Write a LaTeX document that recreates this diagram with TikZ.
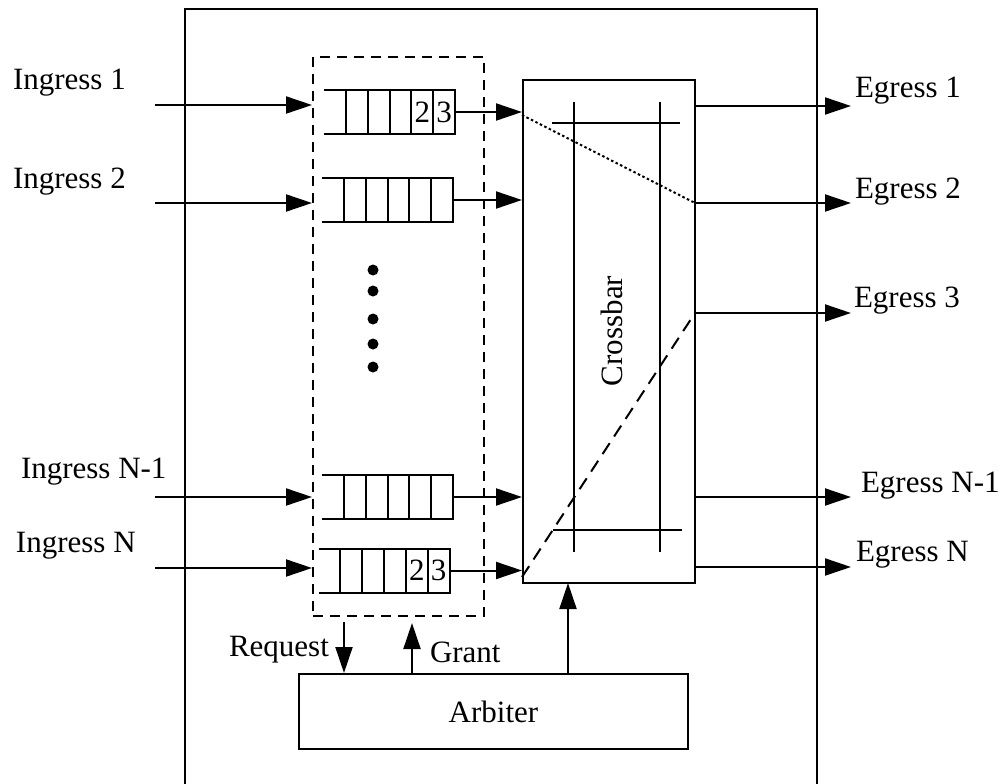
\documentclass[tikz,border=0pt]{standalone}
\usepackage{fontspec}
\setmainfont{Liberation Serif}
\usetikzlibrary{arrows.meta,calc}
\begin{document}
\begin{tikzpicture}[x=1pt,y=-1pt,
  line width=2pt,
  lbl/.style={font=\fontsize{31}{36}\selectfont, inner sep=0pt, anchor=base west},
  digit/.style={font=\fontsize{31}{36}\selectfont, inner sep=0pt},
  arr/.style={-{Triangle[length=26pt,width=17pt]}},
  box/.style={draw, rectangle, inner sep=0pt},
  qslot/.style={inner sep=0pt, minimum width=129pt, minimum height=42pt},
  dotc/.style={circle, fill=black, inner sep=0pt, minimum size=11pt},
  dashbox/.style={draw, rectangle, inner sep=0pt, dash pattern=on 10pt off 7pt},
  fine/.style={dash pattern=on 2.5pt off 2.5pt},
  longdash/.style={dash pattern=on 13pt off 8pt}]
\useasboundingbox (0,0) rectangle (1005,784);
\begin{scope}
\clip (0,0) rectangle (1005,784);
% outer frame
\draw (185,9) -- (817,9) -- (817,800) -- (185,800) -- cycle;
\end{scope}

% main boxes
\node[dashbox, minimum width=171pt, minimum height=559pt] (buf) at (398.5,336.5) {};
\node[box, minimum width=172pt, minimum height=503pt] (xbar) at (609,331.5) {};
\node[box, minimum width=389pt, minimum height=75pt] (arb) at (493.5,711.5) {};
\node[digit] at (arb.center) {Arbiter};
\node[digit, rotate=90] (xl) at (612,331) {Crossbar};

% queues
\foreach \n/\cx/\cy in {q1/389.5/112, q2/387.5/200, q3/387.5/497, q4/384/570.5}{
  \node[qslot] (\n) at (\cx,\cy) {};
  \draw (\n.north west) -- (\n.north east) -- (\n.south east) -- (\n.south west);
  \foreach \k in {1,...,5}{
    \draw ($(\n.north west)!\k/6!(\n.north east)$) -- ($(\n.south west)!\k/6!(\n.south east)$);
  }
}
\foreach \n in {q1,q4}{
  \node[digit] at ($(\n.west)!9/12!(\n.east)$) {2};
  \node[digit] at ($(\n.west)!11/12!(\n.east)$) {3};
}

% dots
\foreach \y [count=\i] in {270,291,319,344,367}{
  \node[dotc] (d\i) at (373,\y) {};
}

% ingress
\node[lbl] (in1) at (12,89) {Ingress 1};
\node[lbl] (in2) at (12,188) {Ingress 2};
\node[lbl] (in3) at (20,478) {Ingress N-1};
\node[lbl] (in4) at (15,552) {Ingress N};
\coordinate (is1) at (155,105);
\coordinate (is2) at (155,203);
\coordinate (is3) at (155,497);
\coordinate (is4) at (155,568);
\foreach \i in {1,2,3,4}{
  \draw[arr] (is\i) -- (is\i -| buf.west);
}

% queue to crossbar
\foreach \n in {q1,q2,q3,q4}{
  \draw[arr] (\n.east) -- (\n.east -| xbar.west);
}

% crossbar internals
\coordinate (v1t) at (574,102); \coordinate (v1b) at (574,552);
\coordinate (v2t) at (660,102); \coordinate (v2b) at (660,552);
\coordinate (h1l) at (552,123); \coordinate (h1r) at (680,123);
\coordinate (h2l) at (553,530); \coordinate (h2r) at (682,530);
\draw (v1t) -- (v1b);
\draw (v2t) -- (v2b);
\draw (h1l) -- (h1r);
\draw (h2l) -- (h2r);

% egress
\coordinate (e1) at (695,106);
\coordinate (e2) at (695,203);
\coordinate (e3) at (695,313);
\coordinate (e4) at (695,497);
\coordinate (e5) at (695,567);
\foreach \i in {1,...,5}{
  \draw[arr] (e\i) -- ++(156,0) coordinate (et\i);
}
\node[lbl] (out1) at (854,98) {Egress 1};
\node[lbl] (out2) at (854,198) {Egress 2};
\node[lbl] (out3) at (853,307) {Egress 3};
\node[lbl] (out4) at (860,492) {Egress N-1};
\node[lbl] (out5) at (855,561) {Egress N};

% connections through crossbar
\draw[fine] (xbar.west |- 0,115) -- (e2);
\draw[longdash] (xbar.west |- 0,577) -- (e3);

% request / grant / control
\coordinate (rq) at (344,622);
\coordinate (gr) at (412,623);
\draw[arr] (rq) -- (rq |- arb.north);
\draw[arr] (gr |- arb.north) -- (gr);
\draw[arr] (568,674) -- (568,583);
\node[lbl] (req) at (228,656) {Request};
\node[lbl] (gra) at (429,662) {Grant};
\end{tikzpicture}
\end{document}
